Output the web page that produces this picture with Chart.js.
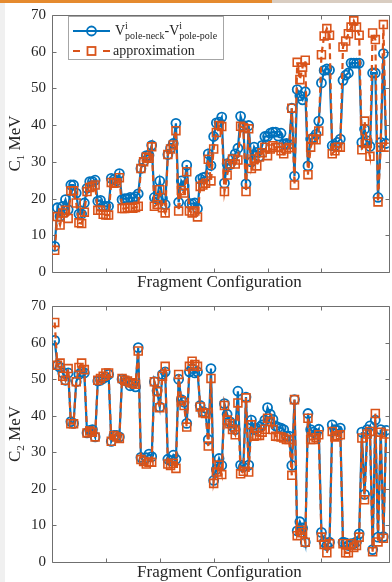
<!DOCTYPE html>
<html>
<head>
<meta charset="utf-8">
<script src="https://cdn.jsdelivr.net/npm/chart.js@4.4.1/dist/chart.umd.min.js"></script>
<style>
  html, body { margin: 0; padding: 0; background: #fff; width: 392px; height: 582px; overflow: hidden; position: relative; }
  canvas { position: absolute; left: 0; }
  #edge { position: absolute; left: 0; top: 0; width: 5px; height: 582px; background: #f0f0f0; }
  #topbar { position: absolute; left: 0; top: 0; width: 392px; height: 3px;
            background: linear-gradient(to right, #e58a2e 0, #e58a2e 272px, #d9cdc1 272px); }
</style>
</head>
<body>
<canvas id="panelC1" width="396" height="291" style="top:0"></canvas>
<canvas id="panelC2" width="396" height="291" style="top:291px"></canvas>
<div id="edge"></div>
<div id="topbar"></div>
<script>
// Fragment configurations (x categories)
const fragmentIndex = Array.from({ length: 124 }, (_, k) => k + 1);

// C1: pole-neck minus pole-pole potential, and its approximation (MeV)
const c1Exact = [
  7.0, 17.5, 15.2, 17.9, 19.7, 17.0, 23.7, 23.7, 21.5, 15.8,
  15.8, 18.8, 22.8, 24.6, 24.6, 25.0, 19.3, 19.5, 17.9, 17.9,
  17.9, 25.5, 25.2, 24.9, 26.8, 19.7, 20.0, 20.0, 20.3, 20.1,
  20.5, 21.3, 28.2, 30.1, 31.7, 31.8, 34.5, 20.3, 19.8, 24.8,
  20.1, 18.4, 32.0, 33.7, 35.0, 40.5, 19.0, 24.8, 23.5, 29.1,
  18.6, 18.6, 18.8, 17.3, 25.3, 25.7, 25.9, 32.2, 29.0, 36.9,
  40.6, 40.8, 42.2, 24.2, 29.5, 29.2, 30.8, 32.2, 33.7, 42.4,
  39.9, 24.0, 39.9, 30.0, 34.0, 32.6, 31.5, 34.5, 36.9, 36.9,
  37.8, 38.1, 38.1, 37.0, 37.8, 34.8, 35.0, 34.8, 44.6, 26.1,
  49.7, 48.0, 46.9, 49.1, 28.9, 36.2, 36.6, 37.5, 41.1, 51.5,
  54.9, 55.3, 55.0, 34.4, 34.4, 35.3, 36.2, 52.2, 53.6, 54.2,
  56.9, 56.9, 56.9, 56.9, 35.3, 38.9, 35.7, 34.2, 54.2, 54.2,
  20.3, 35.3, 59.5, 35.0
];
const c1Approx = [
  5.9, 15.1, 12.8, 16.1, 16.8, 14.6, 22.1, 22.1, 18.8, 13.4,
  13.2, 16.3, 21.9, 23.0, 23.3, 23.7, 16.8, 16.8, 15.7, 15.5,
  15.5, 24.4, 24.2, 24.3, 25.7, 17.3, 17.3, 17.5, 17.6, 17.4,
  17.6, 17.9, 28.2, 30.0, 31.3, 31.0, 34.1, 17.9, 18.4, 22.4,
  17.5, 16.1, 32.0, 33.5, 34.6, 38.5, 16.6, 22.2, 21.5, 27.3,
  16.6, 16.1, 16.6, 15.0, 23.3, 23.7, 24.2, 30.7, 24.8, 33.5,
  38.0, 39.9, 39.6, 21.9, 26.4, 29.4, 30.8, 29.4, 30.5, 39.7,
  39.3, 21.9, 39.0, 28.2, 30.8, 28.9, 31.3, 32.5, 34.0, 31.7,
  33.5, 34.4, 33.9, 34.0, 33.0, 32.2, 33.5, 33.9, 44.6, 23.7,
  57.1, 52.4, 55.8, 57.7, 26.5, 34.0, 36.2, 36.0, 38.4, 59.2,
  64.3, 66.3, 64.5, 32.2, 33.0, 34.0, 34.0, 61.3, 62.9, 64.9,
  66.7, 68.4, 66.7, 64.5, 33.3, 41.1, 35.0, 31.5, 65.1, 63.3,
  19.1, 34.0, 67.4, 34.0
];

// C2 values and approximation (MeV)
const c2Exact = [
  60.6, 53.8, 53.2, 51.7, 49.7, 51.7, 38.4, 37.9, 49.3, 51.3,
  52.0, 51.7, 35.3, 36.0, 36.2, 34.2, 49.5, 49.7, 50.2, 50.6,
  51.3, 33.0, 34.6, 34.6, 34.2, 50.0, 49.7, 49.3, 48.2, 48.6,
  47.9, 58.6, 28.6, 27.7, 28.5, 29.5, 28.8, 49.3, 46.8, 42.4,
  51.3, 52.0, 28.1, 27.7, 29.2, 28.1, 50.0, 44.4, 43.7, 37.9,
  52.0, 52.9, 51.7, 52.0, 42.8, 41.1, 40.8, 33.5, 52.9, 22.3,
  25.3, 28.3, 26.4, 43.3, 40.4, 38.4, 37.1, 36.2, 46.7, 26.5,
  26.0, 45.1, 26.5, 38.8, 36.2, 36.5, 36.9, 37.5, 38.8, 42.2,
  40.4, 39.0, 37.2, 36.8, 36.6, 36.2, 34.4, 34.4, 26.4, 44.4,
  8.5, 11.0, 9.3, 5.4, 40.6, 36.2, 35.5, 35.0, 36.3, 8.1,
  5.4, 4.5, 5.4, 37.5, 36.2, 36.0, 36.6, 5.4, 5.2, 4.5,
  5.0, 5.0, 5.5, 7.7, 35.5, 18.5, 36.2, 37.2, 3.4, 38.8,
  6.8, 36.2, 6.9, 36.0
];
const c2Approx = [
  65.5, 53.8, 54.4, 50.8, 49.7, 52.9, 37.8, 37.8, 49.3, 53.2,
  54.4, 52.6, 35.3, 35.8, 35.5, 34.2, 49.7, 50.2, 50.8, 51.7,
  51.7, 33.0, 34.6, 34.2, 33.8, 50.2, 49.7, 49.5, 49.0, 49.0,
  48.6, 57.7, 28.0, 27.5, 26.8, 27.3, 27.3, 49.3, 46.6, 42.2,
  50.8, 53.5, 26.8, 26.4, 27.0, 25.6, 51.3, 44.1, 42.8, 36.9,
  53.5, 54.9, 54.0, 53.5, 42.4, 40.8, 40.6, 31.7, 50.2, 21.5,
  24.6, 26.5, 23.9, 42.8, 38.8, 37.8, 36.2, 34.8, 43.5, 24.1,
  24.8, 44.9, 24.6, 37.5, 34.4, 34.6, 34.6, 35.5, 36.3, 39.3,
  38.4, 36.2, 34.4, 34.3, 34.2, 33.9, 33.5, 33.5, 23.7, 44.4,
  7.2, 8.7, 8.0, 5.4, 39.3, 33.5, 33.5, 34.0, 34.8, 6.8,
  4.8, 2.5, 5.0, 35.7, 34.2, 34.5, 34.8, 5.0, 2.5, 2.5,
  5.0, 4.0, 4.5, 6.8, 33.9, 17.0, 35.0, 35.7, 2.8, 40.6,
  5.5, 35.5, 6.5, 35.0
];

const yTickValues = [0, 10, 20, 30, 40, 50, 60, 70];
const xTickStep = 20;
const xTitle = 'Fragment Configuration';
const approxLabel = 'approximation';

const SERIF = '"Liberation Serif", "Times New Roman", serif';
const TEXT = '#262626';
const FRAME = '#6f6f6f';
const BLUE = '#0072BD';
const ORANGE = '#D95319';

// Axes box, inward tick marks, axis titles
function frameAndTitles(subscript) {
  return {
    id: 'frameAndTitles',
    beforeDatasetsDraw(chart) {
      const { ctx, chartArea: a, scales: { x, y } } = chart;
      ctx.save();
      ctx.strokeStyle = FRAME;
      ctx.lineWidth = 1;
      const L = Math.round(a.left) + 0.5, R = Math.round(a.right) + 0.5;
      const T = Math.round(a.top) + 0.5, B = Math.round(a.bottom) + 0.5;
      ctx.beginPath();
      ctx.rect(L, T, R - L, B - T);
      y.ticks.forEach(t => {
        const py = Math.round(y.getPixelForValue(t.value)) + 0.5;
        ctx.moveTo(L, py); ctx.lineTo(L + 4, py);
        ctx.moveTo(R, py); ctx.lineTo(R - 4, py);
      });
      x.ticks.forEach(t => {
        if (t.value <= x.min || t.value >= x.max) return;
        const px = Math.round(x.getPixelForValue(t.value)) + 0.5;
        ctx.moveTo(px, B); ctx.lineTo(px, B - 4);
        ctx.moveTo(px, T); ctx.lineTo(px, T + 4);
      });
      ctx.stroke();
      ctx.restore();
    },
    afterDraw(chart) {
      const { ctx, chartArea: a } = chart;
      ctx.save();
      ctx.fillStyle = TEXT;
      // x title
      ctx.font = '17px ' + SERIF;
      ctx.textAlign = 'center';
      ctx.textBaseline = 'alphabetic';
      ctx.fillText(xTitle, a.left + a.width / 2 - 1, a.bottom + 15);
      // y title: C with subscript, then MeV
      ctx.translate(20, (a.top + a.bottom) / 2);
      ctx.rotate(-Math.PI / 2);
      ctx.textAlign = 'left';
      const big = '17px ' + SERIF, small = '11px ' + SERIF;
      ctx.font = big;
      const wC = ctx.measureText('C').width, wM = ctx.measureText(' MeV').width;
      ctx.font = small;
      const wS = ctx.measureText(subscript).width;
      let px = -(wC + wS + wM) / 2;
      ctx.font = big; ctx.fillText('C', px, 0); px += wC;
      ctx.font = small; ctx.fillText(subscript, px, 4); px += wS;
      ctx.font = big; ctx.fillText(' MeV', px, 0);
      ctx.restore();
    }
  };
}

// Legend box with super/subscripted entry
const legendBox = {
  id: 'legendBox',
  afterDraw(chart) {
    const ctx = chart.ctx;
    ctx.save();
    ctx.fillStyle = '#ffffff';
    ctx.strokeStyle = '#a6a6a6';
    ctx.lineWidth = 1;
    ctx.fillRect(68.5, 16.5, 155, 43);
    ctx.strokeRect(68.5, 16.5, 155, 43);

    // entry 1: solid blue line with circle
    ctx.strokeStyle = BLUE;
    ctx.lineWidth = 2.2;
    ctx.beginPath(); ctx.moveTo(73, 31); ctx.lineTo(110, 31); ctx.stroke();
    ctx.lineWidth = 1.8;
    ctx.beginPath(); ctx.arc(91.5, 31, 4.5, 0, Math.PI * 2); ctx.stroke();

    // entry 2: dashed orange line with square
    ctx.strokeStyle = ORANGE;
    ctx.lineWidth = 2.2;
    ctx.beginPath();
    ctx.moveTo(73, 51); ctx.lineTo(80, 51);
    ctx.moveTo(103, 51); ctx.lineTo(110, 51);
    ctx.stroke();
    ctx.lineWidth = 1.8;
    ctx.strokeRect(87.5, 47, 8, 8);

    // labels
    ctx.fillStyle = TEXT;
    ctx.textAlign = 'left';
    ctx.textBaseline = 'alphabetic';
    const big = '14px ' + SERIF, small = '10px ' + SERIF;
    let x = 115;
    const base = 35;
    const piece = (main, sup, sub) => {
      ctx.font = big; ctx.fillText(main, x, base); x += ctx.measureText(main).width;
      ctx.font = small;
      ctx.fillText(sup, x, base - 6);
      ctx.fillText(sub, x, base + 3.5);
      x += Math.max(ctx.measureText(sup).width, ctx.measureText(sub).width);
    };
    piece('V', 'i', 'pole-neck');
    piece('-V', 'i', 'pole-pole');
    ctx.font = big;
    ctx.fillText(approxLabel, 113, 55);
    ctx.restore();
  }
};

function makePanel(canvasId, exact, approx, subscript, padTop, xHeight, withLegend) {
  const points = vals => fragmentIndex.map((k, n) => ({ x: k, y: vals[n] }));
  const plugins = [frameAndTitles(subscript)];
  if (withLegend) plugins.push(legendBox);
  return new Chart(document.getElementById(canvasId), {
    type: 'line',
    data: {
      datasets: [
        {
          label: 'exact',
          data: points(exact),
          order: 1,
          borderColor: BLUE,
          borderWidth: 2.2,
          pointStyle: 'circle',
          pointRadius: 4.5,
          pointBorderWidth: 1.8,
          pointBorderColor: BLUE,
          pointBackgroundColor: 'rgba(0,0,0,0)',
          tension: 0
        },
        {
          label: approxLabel,
          data: points(approx),
          order: 0,
          borderColor: ORANGE,
          borderWidth: 2.2,
          borderDash: [6, 4],
          pointStyle: 'rect',
          pointRadius: 5.6,
          pointBorderWidth: 1.6,
          pointBorderColor: ORANGE,
          pointBackgroundColor: 'rgba(0,0,0,0)',
          tension: 0
        }
      ]
    },
    options: {
      responsive: false,
      animation: false,
      devicePixelRatio: 1,
      events: [],
      layout: { padding: { top: padTop, right: 2.1, left: 0, bottom: 0 } },
      plugins: { legend: { display: false }, tooltip: { enabled: false } },
      scales: {
        x: {
          type: 'linear',
          min: 0,
          max: 125,
          grid: { display: false, drawTicks: false },
          border: { display: false },
          ticks: { display: false, stepSize: xTickStep },
          afterFit: s => { s.height = xHeight; }
        },
        y: {
          min: 0,
          max: 70,
          grid: { display: false, drawTicks: false },
          border: { display: false },
          afterBuildTicks: s => { s.ticks = yTickValues.map(v => ({ value: v })); },
          ticks: { color: TEXT, padding: 6, font: { family: SERIF, size: 15 } },
          afterFit: s => { s.width = 52; }
        }
      }
    },
    plugins
  });
}

makePanel('panelC1', c1Exact, c1Approx, '1', 10, 19, true);
makePanel('panelC2', c2Exact, c2Approx, '2', 9, 20, false);
</script>
</body>
</html>
